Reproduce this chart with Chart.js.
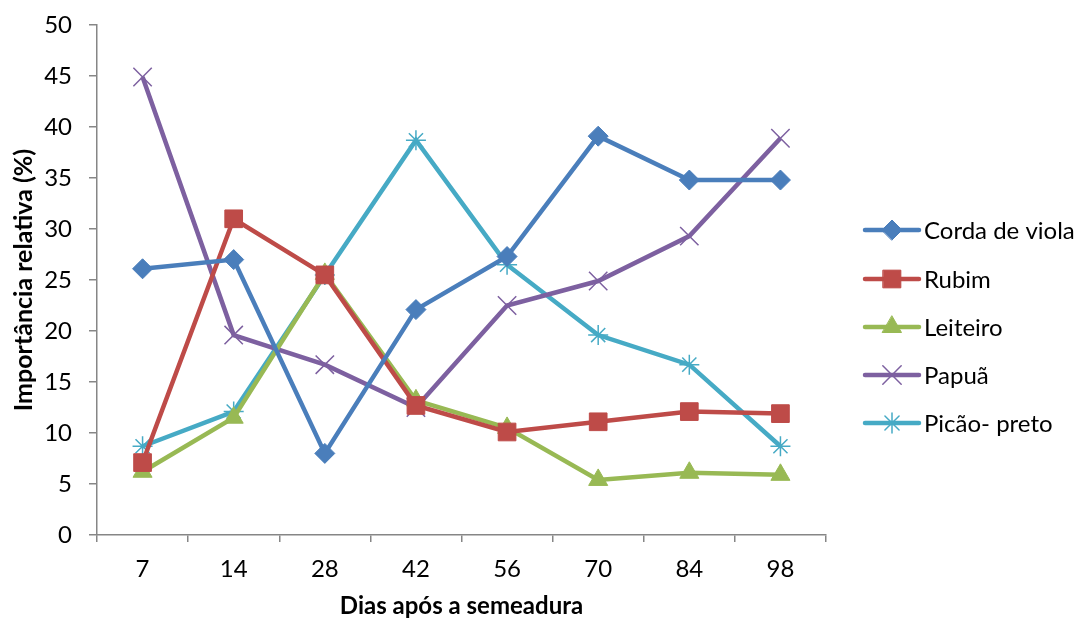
<!DOCTYPE html>
<html>
<head>
<meta charset="utf-8">
<style>
  html, body { margin: 0; padding: 0; background: #ffffff; }
  #wrap { width: 1079px; height: 619px; }
</style>
<script src="https://cdn.jsdelivr.net/npm/chart.js@4/dist/chart.umd.min.js"></script>
</head>
<body>
<div id="wrap"><canvas id="c" width="1079" height="619"></canvas></div>
<script>
// Days after sowing
const dias = ['7', '14', '28', '42', '56', '70', '84', '98'];

// Relative importance (%) per species
const cordaDeViola = [26.1, 27.0, 8.0, 22.1, 27.3, 39.1, 34.8, 34.8];
const rubim       = [7.1, 31.0, 25.5, 12.7, 10.1, 11.1, 12.1, 11.9];
const leiteiro    = [6.2, 11.5, 25.6, 13.2, 10.5, 5.4, 6.1, 5.9];
const papua       = [44.9, 19.6, 16.7, 12.5, 22.5, 24.9, 29.3, 38.9];
const picaoPreto  = [8.7, 12.1, 25.5, 38.7, 26.5, 19.6, 16.7, 8.7];

const seriesNames = ['Corda de viola', 'Rubim', 'Leiteiro', 'Papuã', 'Picão- preto'];
const yTicks = [0, 5, 10, 15, 20, 25, 30, 35, 40, 45, 50];

const FONT = 'Lato, "Open Sans", sans-serif';
const AXIS_GREY = '#868686';

function series(label, data, color, style, radius, bw) {
  return {
    label, data,
    borderColor: color,
    backgroundColor: color,
    borderWidth: 4.5,
    pointStyle: style,
    pointRadius: radius,
    pointHoverRadius: radius,
    pointBorderWidth: bw,
    pointBackgroundColor: color,
    pointBorderColor: color,
    tension: 0,
    fill: false
  };
}

const datasets = [
  series(seriesNames[0], cordaDeViola, '#4A7EBB', 'rectRot', 10, 1),
  series(seriesNames[1], rubim,        '#BE4B48', 'rect', 12.5, 1),
  series(seriesNames[2], leiteiro,     '#98B954', 'triangle', 11, 1),
  series(seriesNames[3], papua,        '#7D60A0', 'crossRot', 13, 1.5),
  series(seriesNames[4], picaoPreto,   '#46AAC5', 'star', 10, 1.5)
];

// Legend on the right: short line with its marker, then the name
const sideLegend = {
  id: 'sideLegend',
  afterDraw(chart) {
    const ctx = chart.ctx;
    const x0 = 865, x1 = 919, tx = 924;
    const rows = [230, 279, 327, 375, 423];
    chart.data.datasets.forEach((ds, i) => {
      const y = rows[i];
      ctx.save();
      ctx.strokeStyle = ds.borderColor;
      ctx.lineWidth = ds.borderWidth;
      ctx.lineCap = 'round';
      ctx.beginPath();
      ctx.moveTo(x0, y);
      ctx.lineTo(x1, y);
      ctx.stroke();
      ctx.fillStyle = ds.pointBackgroundColor;
      ctx.strokeStyle = ds.pointBorderColor;
      ctx.lineWidth = ds.pointBorderWidth;
      Chart.helpers.drawPoint(ctx, {
        pointStyle: ds.pointStyle,
        radius: ds.pointRadius,
        rotation: 0,
        borderWidth: ds.pointBorderWidth
      }, (x0 + x1) / 2, y);
      ctx.fillStyle = '#000000';
      ctx.font = '24px ' + FONT;
      ctx.textAlign = 'left';
      ctx.textBaseline = 'middle';
      ctx.fillText(ds.label, tx, y + 1);
      ctx.restore();
    });
  }
};

new Chart(document.getElementById('c'), {
  type: 'line',
  data: { labels: dias, datasets },
  plugins: [sideLegend],
  options: {
    responsive: false,
    animation: false,
    layout: { padding: { top: 25, right: 253, left: 0, bottom: 0 } },
    plugins: {
      legend: { display: false },
      tooltip: { enabled: false }
    },
    scales: {
      x: {
        type: 'category',
        offset: true,
        afterFit(s) { s.height = 84; s.paddingLeft = 0; s.paddingRight = 0; },
        grid: {
          display: true,
          offset: true,
          drawOnChartArea: false,
          drawTicks: true,
          tickLength: 7,
          color: AXIS_GREY,
          lineWidth: 1.5
        },
        border: { display: true, color: AXIS_GREY, width: 1.5 },
        ticks: {
          color: '#000000',
          font: { family: FONT, size: 24 },
          padding: 13,
          maxRotation: 0
        },
        title: {
          display: true,
          text: 'Dias após a semeadura',
          color: '#000000',
          font: { family: FONT, size: 24, weight: 'bold', lineHeight: 1.05 },
          padding: { top: 0, bottom: 0 }
        }
      },
      y: {
        min: 0,
        max: 50,
        afterFit(s) { s.width = 97; s.paddingTop = 0; s.paddingBottom = 0; },
        afterBuildTicks(s) { s.ticks = yTicks.map(v => ({ value: v })); },
        grid: {
          display: true,
          drawOnChartArea: false,
          drawTicks: true,
          tickLength: 8,
          color: AXIS_GREY,
          lineWidth: 1.5
        },
        border: { display: true, color: AXIS_GREY, width: 1.5 },
        ticks: {
          color: '#000000',
          font: { family: FONT, size: 24 },
          padding: 17
        },
        title: {
          display: true,
          text: 'Importância relativa (%)',
          color: '#000000',
          font: { family: FONT, size: 25, weight: 'bold' },
          padding: { top: 9, bottom: 0 }
        }
      }
    }
  }
});
</script>
</body>
</html>
